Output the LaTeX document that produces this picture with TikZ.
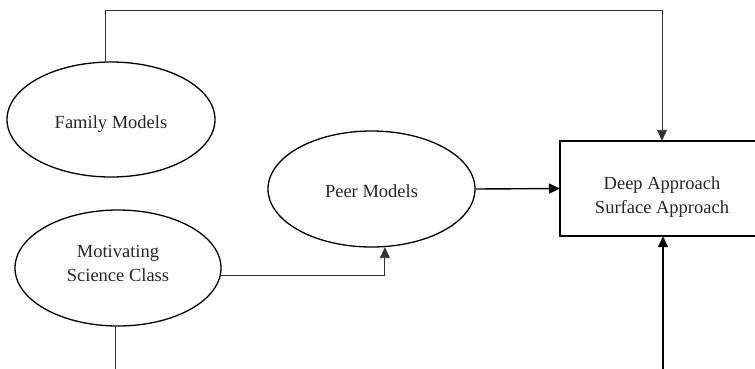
\documentclass[tikz,border=0pt]{standalone}
\usepackage{fontspec}
\setmainfont{Liberation Serif}
\usetikzlibrary{arrows.meta,shapes.geometric}
\begin{document}
\begin{tikzpicture}[x=1pt,y=-1pt,
  every node/.style={font=\fontsize{18.5}{24}\selectfont, text=black!85},
  every label/.style={align=center},
  oval/.style={ellipse, draw, line width=1.3pt, inner sep=0pt},
  boxstyle/.style={rectangle, inner sep=0pt, minimum width=260pt, minimum height=95pt, anchor=west},
  boxline/.style={line width=1.6pt},
  thin/.style={line width=0.9pt, draw=black!80},
  thick/.style={line width=1.4pt},
  tip/.style={-{Triangle[length=11pt,width=10pt]}}]
\useasboundingbox (0,0) rectangle (755,368);
\clip (0,0) rectangle (755,368);
\node[oval, minimum width=208pt, minimum height=115pt, label={[yshift=-4.5pt]center:Family Models}] (fam) at (111,119.5) {};
\node[oval, minimum width=207pt, minimum height=116pt, label={[yshift=-2.5pt]center:Peer Models}] (peer) at (371.5,189) {};
\node[oval, minimum width=206pt, minimum height=116pt, label={[yshift=5pt]center:Motivating\\Science Class}] (mot) at (118,268) {};
\node[boxstyle] (box) at (560,188.5) {};
\draw[boxline] (box.north east) -- (box.north west) -- (box.south west) -- (box.south east);
\node[align=center] (boxtext) at (662,197) {Deep Approach\\Surface Approach};
\coordinate (tr) at (662,10);
\coordinate (mb) at (115,380);
\coordinate (br) at (663,380);
\draw[thin, tip] (fam.95) |- (tr) -- (tr |- box.north);
\draw[thick, tip] (peer.east) -- (box.west);
\draw[thin, tip] (mot.-4) -| (peer.-77);
\draw[thin] (mot.south -| mb) -- (mb);
\draw[thick, tip] (br) -- (br |- box.south);
\end{tikzpicture}
\end{document}
